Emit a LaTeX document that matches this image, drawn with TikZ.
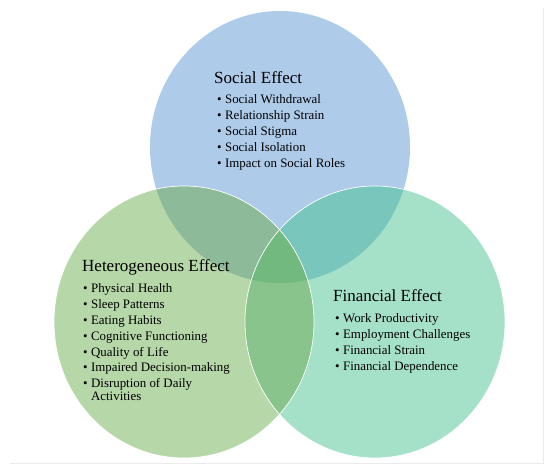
\documentclass[tikz,border=0pt]{standalone}
\usepackage{fontspec}
\setmainfont{Liberation Serif}
\usetikzlibrary{positioning}

\definecolor{socblue}{HTML}{AECBEA}
\definecolor{hetgreen}{HTML}{B6D7A8}
\definecolor{finteal}{HTML}{A5E1C8}
\definecolor{sochet}{HTML}{8DBA98}
\definecolor{socfin}{HTML}{79C6BD}
\definecolor{hetfin}{HTML}{88C48B}
\definecolor{allthree}{HTML}{72B97F}

\newcommand{\bulletrows}[1]{\begin{tabular}[t]{@{}l@{\hspace{3.4pt}}l@{}}#1\end{tabular}}

\begin{document}
\begin{tikzpicture}[x=1pt,y=1pt,
bubble/.style = {x radius=130pt, y radius=136pt},
rim/.style = {draw=white, line width=0.7pt},
heading/.style = {anchor=base west, inner sep=0pt, font=\fontsize{17}{20}\selectfont},
itemlist/.style = {anchor=base west, inner sep=0pt, font=\fontsize{12.9}{15.8}\selectfont}]

\useasboundingbox (0,0) rectangle (550,472);
\draw[black!8] (543,464) -- (543,9) -- (10,9);

% centres of the three sets
\coordinate (soc) at (280,325);
\coordinate (het) at (184,150);
\coordinate (fin) at (375,150);

\fill[socblue] (soc) ellipse [bubble];
\fill[finteal] (fin) ellipse [bubble];
\fill[hetgreen] (het) ellipse [bubble];

% pairwise overlaps
\begin{scope}
\clip (soc) ellipse [bubble];
\fill[sochet] (het) ellipse [bubble];
\fill[socfin] (fin) ellipse [bubble];
\end{scope}
\begin{scope}
\clip (het) ellipse [bubble];
\fill[hetfin] (fin) ellipse [bubble];
\end{scope}
\begin{scope}
\clip (soc) ellipse [bubble];
\clip (het) ellipse [bubble];
\fill[allthree] (fin) ellipse [bubble];
\end{scope}

\path[rim] (fin) ellipse [bubble];
\path[rim] (het) ellipse [bubble];

% texts
\node[heading] (soc-title) at (214,388) {Social Effect};
\node[itemlist] (soc-list) at ([xshift=3pt,yshift=-20pt]soc-title.base west) {\bulletrows{
\textbullet & Social Withdrawal\\
\textbullet & Relationship Strain\\
\textbullet & Social Stigma\\
\textbullet & Social Isolation\\
\textbullet & Impact on Social Roles}};

\node[heading] (het-title) at (82,200) {Heterogeneous Effect};
\node[itemlist] (het-list) at ([xshift=1pt,yshift=-21pt]het-title.base west) {\bulletrows{
\textbullet & Physical Health\\
\textbullet & Sleep Patterns\\
\textbullet & Eating Habits\\
\textbullet & Cognitive Functioning\\
\textbullet & Quality of Life\\
\textbullet & Impaired Decision-making\\
\textbullet & Disruption of Daily\\[-3.5pt]
 & Activities}};

\node[heading] (fin-title) at (333,170) {Financial Effect};
\node[itemlist] (fin-list) at ([xshift=2pt,yshift=-21pt]fin-title.base west) {\bulletrows{
\textbullet & Work Productivity\\
\textbullet & Employment Challenges\\
\textbullet & Financial Strain\\
\textbullet & Financial Dependence}};

\end{tikzpicture}
\end{document}
